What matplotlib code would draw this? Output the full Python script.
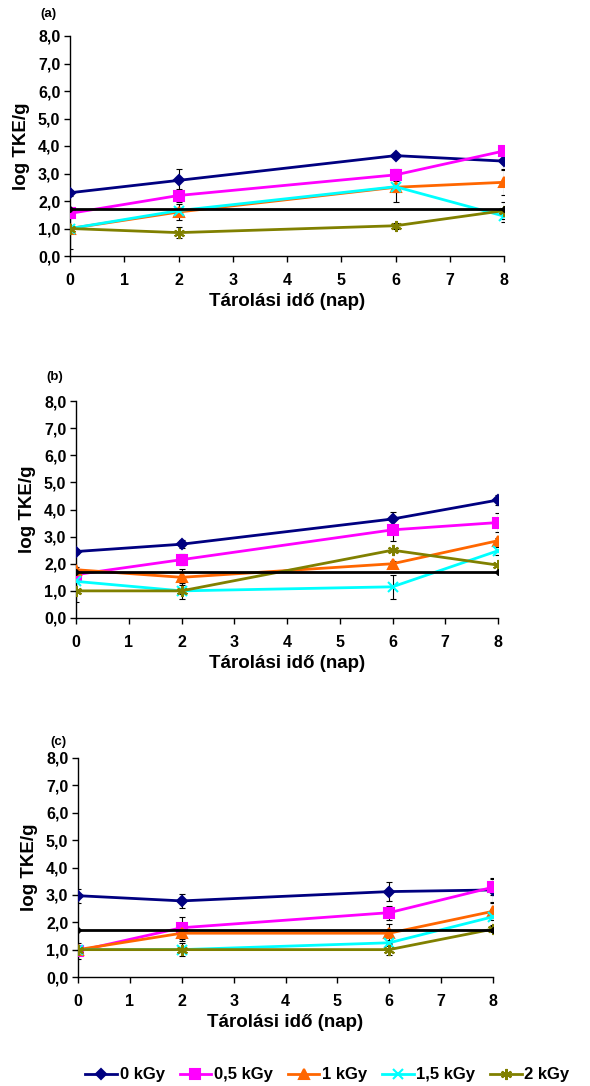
import matplotlib
matplotlib.use("Agg")
import matplotlib.pyplot as plt
from matplotlib.lines import Line2D

plt.rcParams['font.family'] = ['Liberation Sans', 'DejaVu Sans']
plt.rcParams['font.weight'] = 'bold'

# Tárolási idő (nap)
napok = [0, 2, 6, 8]
series_labels = ["0 kGy", "0,5 kGy", "1 kGy", "1,5 kGy", "2 kGy"]
detection_limit = 1.7

# (a)
a_0 = [2.30, 2.75, 3.65, 3.45]
a_05 = [1.55, 2.20, 2.95, 3.82]
a_1 = [1.00, 1.60, 2.50, 2.68]
a_15 = [1.00, 1.65, 2.52, 1.45]
a_2 = [1.00, 0.85, 1.10, 1.65]
a_err_0 = [0.10, 0.40, 0.05, 0.30]
a_err_05 = [0.15, 0.25, 0.20, 0.05]
a_err_1 = [0.75, 0.30, 0.55, 0.45]
a_err_15 = [0.10, 0.10, 0.20, 0.20]
a_err_2 = [0.05, 0.20, 0.10, 0.30]

# (b)
b_0 = [2.45, 2.72, 3.65, 4.35]
b_05 = [1.60, 2.15, 3.25, 3.52]
b_1 = [1.78, 1.50, 2.00, 2.85]
b_15 = [1.35, 1.00, 1.15, 2.48]
b_2 = [1.00, 1.00, 2.50, 1.95]
b_err_0 = [0.10, 0.15, 0.25, 0.20]
b_err_05 = [0.10, 0.20, 0.40, 0.35]
b_err_1 = [0.10, 0.30, 0.10, 0.10]
b_err_15 = [0.30, 0.10, 0.45, 0.15]
b_err_2 = [0.40, 0.30, 0.05, 0.05]

# (c)
c_0 = [2.97, 2.78, 3.12, 3.18]
c_05 = [0.95, 1.80, 2.35, 3.28]
c_1 = [1.00, 1.60, 1.60, 2.40]
c_15 = [1.00, 1.00, 1.25, 2.20]
c_2 = [1.00, 1.00, 1.00, 1.75]
c_err_0 = [0.25, 0.25, 0.35, 0.45]
c_err_05 = [0.30, 0.40, 0.25, 0.30]
c_err_1 = [0.10, 0.30, 0.35, 0.30]
c_err_15 = [0.10, 0.10, 0.10, 0.30]
c_err_2 = [0.10, 0.25, 0.20, 0.10]

colors = ["#000080", "#FF00FF", "#FF6600", "#00FFFF", "#808000"]
markers = ["D", "s", "^", "x", (6, 2, 0)]
msizes = [5.5, 7, 6.5, 7, 8]

panels = [
    ("(a)", [a_0, a_05, a_1, a_15, a_2], [a_err_0, a_err_05, a_err_1, a_err_15, a_err_2],
     [70, 36, 504, 256], (40, 14)),
    ("(b)", [b_0, b_05, b_1, b_15, b_2], [b_err_0, b_err_05, b_err_1, b_err_15, b_err_2],
     [76, 401, 498, 618], (46, 377)),
    ("(c)", [c_0, c_05, c_1, c_15, c_2], [c_err_0, c_err_05, c_err_1, c_err_15, c_err_2],
     [78, 758, 493, 977], (50, 742)),
]

W, H = 590, 1086
fig = plt.figure(figsize=(W / 100, H / 100), dpi=100)

for label, ys, errs, (x0, y0, x1, y1), (lx, ly) in panels:
    ax = fig.add_axes([x0 / W, 1 - y1 / H, (x1 - x0) / W, (y1 - y0) / H])
    for y, e in zip(ys, errs):
        ax.errorbar(napok, y, yerr=e, fmt='none', ecolor='black', elinewidth=0.8,
                    capsize=2, capthick=0.8, zorder=2)
    ax.plot([0, 8], [detection_limit, detection_limit], color='black', lw=2,
            marker='D', ms=3, zorder=4)
    for y, c, m, s in zip(ys, colors, markers, msizes):
        ax.plot(napok, y, color=c, lw=2, marker=m, ms=s, mew=1.5, zorder=3)
    ax.set_xlim(0, 8)
    ax.set_ylim(0, 8)
    ax.set_xticks(range(9))
    ax.set_yticks(range(9))
    ax.set_yticklabels([f"{v},0" for v in range(9)])
    for s in ['top', 'right']:
        ax.spines[s].set_visible(False)
    for s in ['left', 'bottom']:
        ax.spines[s].set_linewidth(1.0)
    ax.tick_params(axis='both', direction='out', length=4, width=1, labelsize=11.5, pad=3)
    ax.tick_params(axis='x', pad=8)
    ax.set_xlabel("Tárolási idő (nap)", fontsize=13.5, fontweight='bold', labelpad=4)
    ax.set_ylabel("log TKE/g", fontsize=13.5, fontweight='bold', labelpad=6)
    for t in ax.get_xticklabels() + ax.get_yticklabels():
        t.set_fontweight('bold')
    fig.text(lx / W, 1 - ly / H, label, fontsize=9.5, fontweight='bold', va='center', ha='left')

handles = [Line2D([], [], color=c, lw=2, marker=m, ms=s, mew=1.5)
           for c, m, s in zip(colors, markers, msizes)]
fig.legend(handles, series_labels, loc='center', bbox_to_anchor=(0.555, 1 - 1075 / H),
           ncol=5, frameon=False, handlelength=1.9, handletextpad=0.15,
           columnspacing=0.9, borderaxespad=0, borderpad=0,
           prop={'weight': 'bold', 'size': 12})

fig.savefig("out.png", dpi=100)
